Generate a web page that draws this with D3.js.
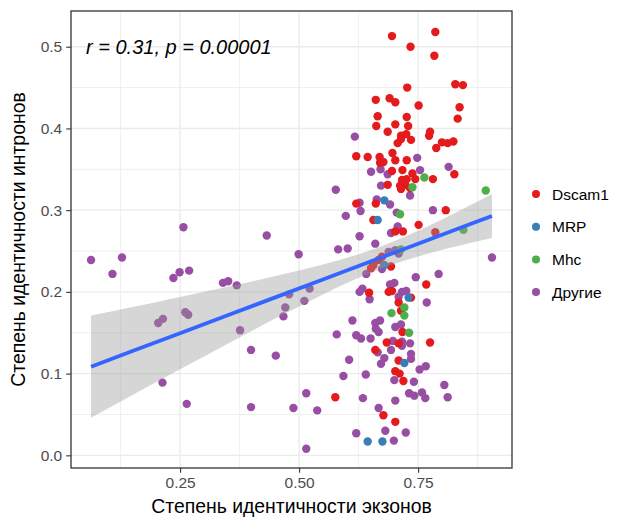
<!DOCTYPE html>
<html>
<head>
<meta charset="utf-8">
<script src="https://cdn.jsdelivr.net/npm/d3@7"></script>
<style>
  body { margin: 0; background: #fff; }
  svg { font-family: "Liberation Sans", Arial, sans-serif; display: block; }
</style>
</head>
<body>
<div id="chart"></div>
<script>
/* scatter: exon identity vs intron identity, with lm fit */

const groups = ["Dscam1", "MRP", "Mhc", "Другие"];
const colors = ["#E41A1C", "#377EB8", "#4DAF4A", "#984EA3"];

const dscam1 = [
  [0.695,0.513],[0.786,0.518],[0.734,0.500],[0.784,0.489],[0.828,0.454],[0.844,0.453],
  [0.727,0.450],[0.661,0.435],[0.690,0.437],[0.702,0.432],[0.751,0.428],[0.837,0.426],
  [0.665,0.415],[0.726,0.414],[0.833,0.412],[0.662,0.403],[0.702,0.405],[0.729,0.403],
  [0.686,0.396],[0.775,0.396],[0.773,0.391],[0.714,0.391],[0.725,0.393],[0.735,0.386],
  [0.707,0.382],[0.714,0.387],[0.800,0.383],[0.812,0.382],[0.824,0.384],[0.788,0.376],
  [0.620,0.366],[0.644,0.365],[0.669,0.365],[0.696,0.370],[0.702,0.361],[0.670,0.358],
  [0.677,0.359],[0.726,0.361],[0.695,0.348],[0.717,0.349],[0.738,0.345],[0.781,0.338],
  [0.826,0.344],[0.716,0.337],[0.726,0.338],[0.744,0.338],[0.686,0.331],[0.712,0.330],
  [0.723,0.331],[0.714,0.326],[0.733,0.327],[0.620,0.308],[0.661,0.308],[0.808,0.300],
  [0.656,0.288],[0.751,0.282],[0.702,0.274],[0.718,0.274],[0.786,0.273],[0.674,0.243],
  [0.667,0.239],[0.656,0.233],[0.651,0.229],[0.693,0.231],[0.767,0.209],[0.647,0.199],
  [0.688,0.200],[0.695,0.201],[0.735,0.193],[0.709,0.187],[0.714,0.177],[0.717,0.151],
  [0.775,0.138],[0.684,0.138],[0.709,0.137],[0.660,0.129],[0.709,0.116],[0.702,0.103],
  [0.711,0.100],[0.719,0.091],[0.576,0.071],[0.677,0.049],[0.702,0.041]
];

const mrp = [
  [0.679,0.312],[0.665,0.288],[0.679,0.233],[0.730,0.193],[0.721,0.113],[0.644,0.017],[0.675,0.017]
];

const mhc = [
  [0.763,0.340],[0.738,0.328],[0.892,0.324],[0.712,0.295],[0.845,0.276],
  [0.714,0.252],[0.721,0.181],[0.694,0.174],[0.721,0.171],[0.731,0.150]
];

const other = [
  [0.063,0.239],[0.108,0.222],[0.128,0.242],[0.257,0.279],[0.236,0.217],[0.249,0.224],
  [0.269,0.226],[0.204,0.162],[0.214,0.167],[0.261,0.175],[0.267,0.172],[0.340,0.211],
  [0.351,0.213],[0.369,0.208],[0.432,0.269],[0.499,0.246],[0.376,0.153],[0.399,0.129],
  [0.451,0.122],[0.467,0.170],[0.471,0.181],[0.479,0.197],[0.511,0.189],[0.522,0.204],
  [0.577,0.325],[0.582,0.252],[0.602,0.253],[0.579,0.148],[0.213,0.089],[0.264,0.063],
  [0.399,0.059],[0.488,0.058],[0.515,0.076],[0.538,0.055],[0.515,0.008],
  [0.617,0.390],[0.748,0.364],[0.651,0.347],[0.671,0.350],[0.686,0.344],[0.754,0.349],
  [0.814,0.353],[0.672,0.330],[0.733,0.318],[0.627,0.309],[0.663,0.313],[0.691,0.307],
  [0.629,0.299],[0.598,0.293],[0.705,0.297],[0.781,0.300],[0.707,0.280],[0.693,0.272],
  [0.627,0.268],[0.660,0.259],[0.688,0.249],[0.702,0.251],[0.709,0.247],[0.674,0.228],
  [0.641,0.222],[0.905,0.242],[0.745,0.218],[0.793,0.222],[0.700,0.211],[0.691,0.209],
  [0.633,0.204],[0.627,0.200],[0.716,0.200],[0.725,0.201],[0.709,0.194],[0.648,0.191],
  [0.768,0.187],[0.612,0.165],[0.660,0.162],[0.670,0.165],[0.661,0.155],[0.667,0.151],
  [0.702,0.157],[0.714,0.160],[0.620,0.147],[0.630,0.143],[0.650,0.143],[0.697,0.140],
  [0.716,0.139],[0.716,0.134],[0.733,0.137],[0.665,0.126],[0.693,0.129],[0.735,0.124],
  [0.735,0.118],[0.679,0.119],[0.672,0.112],[0.605,0.117],[0.753,0.105],[0.766,0.109],
  [0.593,0.097],[0.640,0.099],[0.700,0.092],[0.741,0.090],[0.731,0.076],[0.742,0.073],
  [0.758,0.077],[0.765,0.070],[0.805,0.086],[0.812,0.071],[0.634,0.070],[0.667,0.058],
  [0.702,0.067],[0.620,0.027],[0.699,0.018],[0.681,0.030],[0.724,0.028]
];

// fitted line and 95% band
const fitX  = [0.063, 0.15, 0.25, 0.35, 0.45, 0.55, 0.65, 0.75, 0.85, 0.905];
const fitY  = [0.1085, 0.1276, 0.1495, 0.1714, 0.1933, 0.2152, 0.2371, 0.2590, 0.2809, 0.2929];
const fitLo = [0.046, 0.0737, 0.1052, 0.1365, 0.1673, 0.1969, 0.2233, 0.2433, 0.2585, 0.2659];
const fitHi = [0.171, 0.1815, 0.1938, 0.2063, 0.2193, 0.2335, 0.2509, 0.2747, 0.3033, 0.3199];

const xTicks = [0.25, 0.50, 0.75];
const xMinor = [0.125, 0.375, 0.625, 0.875];
const yTicks = [0.0, 0.1, 0.2, 0.3, 0.4, 0.5];
const yMinor = [0.05, 0.15, 0.25, 0.35, 0.45];

const label = "r = 0.31, p = 0.00001";
const xTitle = "Степень идентичности экзонов";
const yTitle = "Степень идентичности интронов";

const width = 639, height = 517;
const margin = { top: 11, right: 127, bottom: 49, left: 71 };

const svg = d3.select("#chart")
  .append("svg")
  .attr("width", width)
  .attr("height", height);

const x = d3.scaleLinear()
  .domain([0.0209, 0.9471])
  .range([margin.left, width - margin.right]);

const y = d3.scaleLinear()
  .domain([-0.0155, 0.5437])
  .range([height - margin.bottom, margin.top]);

const x0 = margin.left, x1 = width - margin.right;
const y0 = height - margin.bottom, y1 = margin.top;

// grid
const grid = svg.append("g").attr("stroke", "#EBEBEB");
grid.selectAll(".vmin").data(xMinor).join("line")
  .attr("x1", d => x(d)).attr("x2", d => x(d)).attr("y1", y0).attr("y2", y1)
  .attr("stroke-width", 0.8);
grid.selectAll(".hmin").data(yMinor).join("line")
  .attr("y1", d => y(d)).attr("y2", d => y(d)).attr("x1", x0).attr("x2", x1)
  .attr("stroke-width", 0.8);
grid.selectAll(".vmaj").data(xTicks).join("line")
  .attr("x1", d => x(d)).attr("x2", d => x(d)).attr("y1", y0).attr("y2", y1)
  .attr("stroke-width", 1.4);
grid.selectAll(".hmaj").data(yTicks).join("line")
  .attr("y1", d => y(d)).attr("y2", d => y(d)).attr("x1", x0).attr("x2", x1)
  .attr("stroke-width", 1.4);

// points
const sets = [other, dscam1, mrp, mhc];
const setColors = [colors[3], colors[0], colors[1], colors[2]];
sets.forEach((pts, i) => {
  svg.append("g")
    .selectAll("circle")
    .data(pts)
    .join("circle")
    .attr("cx", d => x(d[0]))
    .attr("cy", d => y(d[1]))
    .attr("r", 4.2)
    .attr("fill", setColors[i]);
});

// confidence band + fit line
const fit = fitX.map((v, i) => ({ x: v, y: fitY[i], lo: fitLo[i], hi: fitHi[i] }));

svg.append("path")
  .datum(fit)
  .attr("fill", "#999999")
  .attr("fill-opacity", 0.4)
  .attr("d", d3.area().curve(d3.curveNatural)
    .x(d => x(d.x)).y0(d => y(d.lo)).y1(d => y(d.hi)));

svg.append("path")
  .datum(fit)
  .attr("fill", "none")
  .attr("stroke", "#3366FF")
  .attr("stroke-width", 3.8)
  .attr("d", d3.line().x(d => x(d.x)).y(d => y(d.y)));

// border
svg.append("rect")
  .attr("x", x0).attr("y", y1)
  .attr("width", x1 - x0).attr("height", y0 - y1)
  .attr("fill", "none")
  .attr("stroke", "#333333")
  .attr("stroke-width", 1.3);

// axes
const xAxis = g => g
  .attr("transform", `translate(0,${y0})`)
  .call(d3.axisBottom(x).tickValues(xTicks).tickFormat(d3.format(".2f")).tickSize(4.8).tickPadding(4))
  .call(g => g.select(".domain").remove());

const yAxis = g => g
  .attr("transform", `translate(${x0},0)`)
  .call(d3.axisLeft(y).tickValues(yTicks).tickFormat(d3.format(".1f")).tickSize(4.8).tickPadding(4))
  .call(g => g.select(".domain").remove());

svg.append("g").call(xAxis);
svg.append("g").call(yAxis);

svg.selectAll(".tick line").attr("stroke", "#333333").attr("stroke-width", 1.1);
svg.selectAll(".tick text")
  .attr("fill", "#4D4D4D")
  .style("font-size", "15.5px");

// annotation
svg.append("text")
  .attr("x", 86)
  .attr("y", 54)
  .style("font-size", "20px")
  .style("font-style", "italic")
  .text(label);

// axis titles
svg.append("text")
  .attr("x", (x0 + x1) / 2)
  .attr("y", 513)
  .attr("text-anchor", "middle")
  .style("font-size", "19.4px")
  .text(xTitle);

svg.append("text")
  .attr("transform", `translate(25,${(y0 + y1) / 2}) rotate(-90)`)
  .attr("text-anchor", "middle")
  .style("font-size", "19.4px")
  .text(yTitle);

// legend
const legend = svg.append("g")
  .selectAll("g")
  .data(groups)
  .join("g")
  .attr("transform", (d, i) => `translate(536,${194 + i * 32.7})`);

legend.append("circle")
  .attr("r", 4)
  .attr("fill", (d, i) => colors[i]);

legend.append("text")
  .attr("x", 16)
  .attr("dy", "0.36em")
  .style("font-size", "15.5px")
  .text(d => d);
</script>
</body>
</html>
